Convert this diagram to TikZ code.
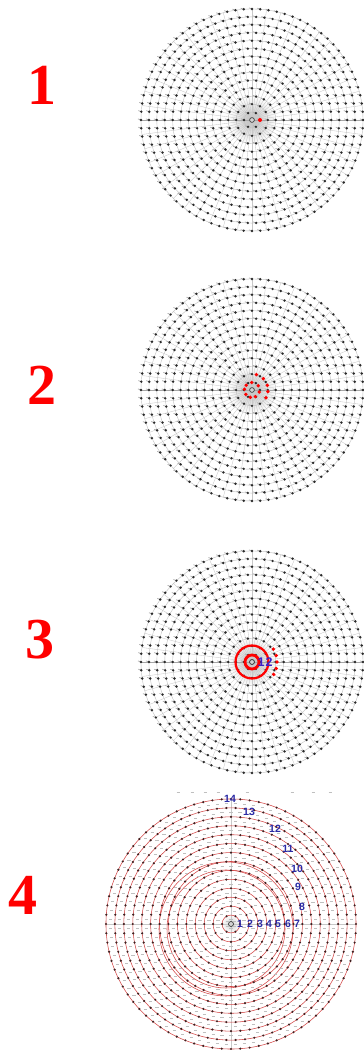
\documentclass[tikz,border=0pt]{standalone}
\usepackage{fontspec}
\setmainfont{Liberation Serif}
\newfontfamily\labfont{Liberation Sans}
\usetikzlibrary{calc}
\definecolor{numred}{HTML}{FF0000}
\definecolor{ringred}{HTML}{D44848}
\definecolor{labblue}{HTML}{2B2BA6}
\definecolor{hitblue}{HTML}{3A20C8}
\definecolor{meshgray}{HTML}{BEBEBE}
\definecolor{nodegray}{HTML}{2A2A2A}
\definecolor{ringnodecol}{HTML}{402020}
% polar mesh of 14 rings, 6k nodes on ring k
\newcommand{\meshdisc}[2]{%
  \begin{scope}[shift={(#1)}]
    \shade[inner color=gray!50,outer color=white] (0,0) circle[radius=24];
    \foreach \a in {0,7.5,...,352.5} \draw[spoke] (0,0) -- (\a:14*#2);
    \draw[spoke,draw=gray!70] (-14*#2,0) -- (14*#2,0);
    \foreach \k in {1,...,14} \draw[ring] (0,0) circle[radius=\k*#2];
    \foreach \k in {1,...,14}{
      \pgfmathsetmacro{\da}{60/\k}
      \pgfmathtruncatemacro{\n}{6*\k}
      \foreach \i in {1,...,\n}{
        \draw[tail] (\da*\i:\k*#2) -- ++(160:3.2);
        \fill[meshnode] (\da*\i:\k*#2) circle[radius=1.35];
      }
    }
    \draw[nodegray,fill=gray!35,line width=0.6pt] (0,0) circle[radius=2.4];
  \end{scope}}

\begin{document}
\begin{tikzpicture}[x=1pt,y=1pt,
  bignum/.style={text=numred,font=\fontsize{58}{58}\selectfont\bfseries,inner sep=0pt},
  ringlab/.style={text=labblue,font=\labfont\fontsize{10.5}{10.5}\selectfont\bfseries,inner sep=0pt},
  hitlab/.style={text=hitblue,font=\labfont\fontsize{12.5}{12.5}\selectfont\bfseries,inner sep=0pt},
  spoke/.style={draw=meshgray!85,line width=0.35pt},
  ring/.style={draw=meshgray,line width=0.4pt},
  tail/.style={draw=gray!65,line width=0.7pt},
  meshnode/.style={fill=nodegray},
  hitdot/.style={fill=red},
  hitring/.style={draw=red},
  redring/.style={draw=ringred,line width=0.55pt},
  gridtick/.style={draw=gray!50,line width=0.6pt},
  ringnode/.style={fill=ringnodecol}]
\useasboundingbox (0,0) rectangle (364,1050);
\fill[white] (0,0) rectangle (364,1050);

\coordinate (c1) at (252,930);
\coordinate (c2) at (252,660);
\coordinate (c3) at (252,388);
\coordinate (c4) at (231,126);

% step numbers
\node[bignum] (num1) at (42,965) {1};
\node[bignum] (num2) at (42,665) {2};
\node[bignum] (num3) at (40,410) {3};
\node[bignum] (num4) at (23,155) {4};

% panel 1
\meshdisc{c1}{7.93}
\fill[hitdot] ($(c1)+(8,0)$) circle[radius=2];

% panel 2
\meshdisc{c2}{7.93}
\foreach \a in {140,92,34,-16,-63,-103,-144,174}
  \fill[hitdot] ($(c2)+(\a:7.5)$) circle[radius=1.9];
\foreach \a in {74,45,17,-6,-29}
  \fill[hitdot] ($(c2)+(\a:16)$) circle[radius=1.9];

% panel 3
\meshdisc{c3}{7.93}
\draw[hitring,line width=2.8pt] (c3) circle[radius=7];
\draw[hitring,line width=2.2pt] (c3) circle[radius=16.5];
\draw[nodegray,fill=gray!35,line width=0.6pt] (c3) circle[radius=2.4];
\foreach \a in {31,15,0,-15,-30}
  \fill[hitdot] ($(c3)+(\a:25)$) circle[radius=1.9];
\node[hitlab] (p3l1) at ($(c3)+(9,0)$) {1};
\node[hitlab] (p3l2) at ($(c3)+(17,0)$) {2};

% panel 4
\foreach \x in {178,192,205,218,247,292,313,330}
  \draw[gridtick] (\x-1.5,258) -- (\x+1.5,258);
\begin{scope}[shift={(c4)}]
  \shade[inner color=gray!35,outer color=white] (0,0) circle[radius=10];
  \draw[spoke] (-125,0) -- (125,0) (0,-125) -- (0,125);
  \foreach \k in {1,...,14} \draw[redring] (0,0) circle[radius=\k*8.93];
  \draw[redring] (-5,-5) circle[radius=59] (-5,-5) circle[radius=67];
  \foreach \k in {1,...,14}{
    \pgfmathsetmacro{\da}{60/\k}
    \pgfmathtruncatemacro{\n}{6*\k}
    \foreach \i in {1,...,\n}{
      \draw[gridtick] (\da*\i+\da/2:\k*8.93-4.5) ++(-1.6,0) -- ++(3.2,0);
      \fill[ringnode] (\da*\i:\k*8.93) circle[radius=1.2];
    }
  }
  \draw[nodegray,fill=gray!35,line width=0.6pt] (0,0) circle[radius=2.5];
\end{scope}
\foreach \t/\x/\y in {1/240/126,2/250/126,3/260/126,4/269/126,5/278/126,6/288/126,7/297/126,
  8/302/143,9/298/163,10/297/181,11/288/201,12/275/221,13/249/238,14/230/251}
  \node[ringlab] (lab\t) at (\x,\y) {\t};
\end{tikzpicture}
\end{document}
